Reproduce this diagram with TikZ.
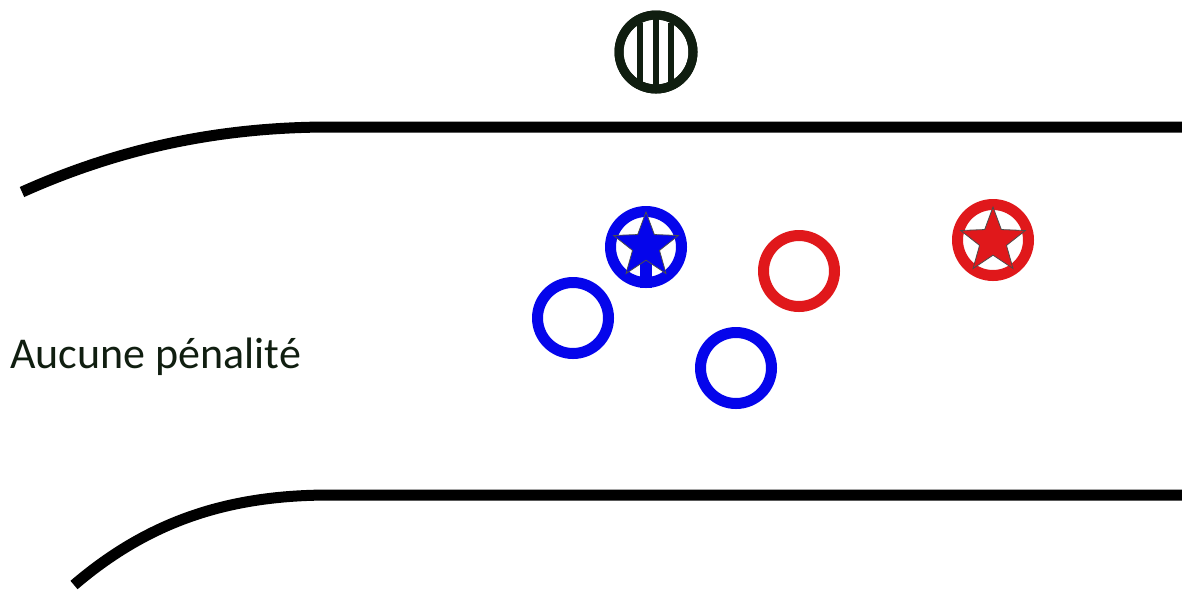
\documentclass[tikz,border=0pt]{standalone}
\usepackage{fontspec}
\setmainfont{Carlito}
\usetikzlibrary{shapes.geometric}
\definecolor{pblue}{RGB}{5,5,235}
\definecolor{pred}{RGB}{224,24,27}
\definecolor{pdark}{RGB}{16,30,16}
\tikzset{
  ring/.style={circle,draw,line width=5.5pt,fill=white,minimum size=35.5pt,inner sep=0pt},
  starmark/.style={star,star points=5,star point ratio=2.4,draw=black!70,line width=0.4pt,minimum size=34pt,inner sep=0pt}
}
\begin{document}
\begin{tikzpicture}[x=0.5pt,y=-0.5pt]
\useasboundingbox (0,0) rectangle (1182,591);
\draw[line width=5.5pt] (22,192) .. controls (120,148) and (220,127) .. (330,127) -- (1182,127);
\draw[line width=5.5pt] (74,585) .. controls (150,520) and (230,495) .. (330,495) -- (1182,495);

\node[ring,draw=pdark,line width=4.5pt,minimum size=37pt] (ball) at (656,52) {};
\draw[pdark,line width=3pt,shorten <=6pt,shorten >=6pt] ([xshift=-8pt]ball.north) -- ([xshift=-8pt]ball.south);
\draw[pdark,line width=3pt,shorten <=4pt,shorten >=4pt] (ball.north) -- (ball.south);
\draw[pdark,line width=3pt,shorten <=6pt,shorten >=6pt] ([xshift=7.5pt]ball.north) -- ([xshift=7.5pt]ball.south);
\node[circle,draw=pdark,line width=4.5pt,minimum size=37pt] at (ball.center) {};

\node[ring,draw=pblue] (bcap) at (646,247) {};
\draw[pblue,line width=6pt] (bcap.center) -- (bcap.south);
\node[starmark,fill=pblue] (bstar) at (646,246) {};

\node[ring,draw=pblue] (bone) at (573,318) {};
\node[ring,draw=pblue] (btwo) at (736,368) {};

\node[ring,draw=pred] (rone) at (799,271) {};
\node[ring,draw=pred] (rcap) at (993,240) {};
\node[starmark,fill=pred] (rstar) at (993,241) {};

\node[anchor=base west,inner sep=0pt,text=pdark,font=\fontsize{22pt}{26pt}\selectfont] (label) at (10,368) {Aucune pénalité};
\end{tikzpicture}
\end{document}
